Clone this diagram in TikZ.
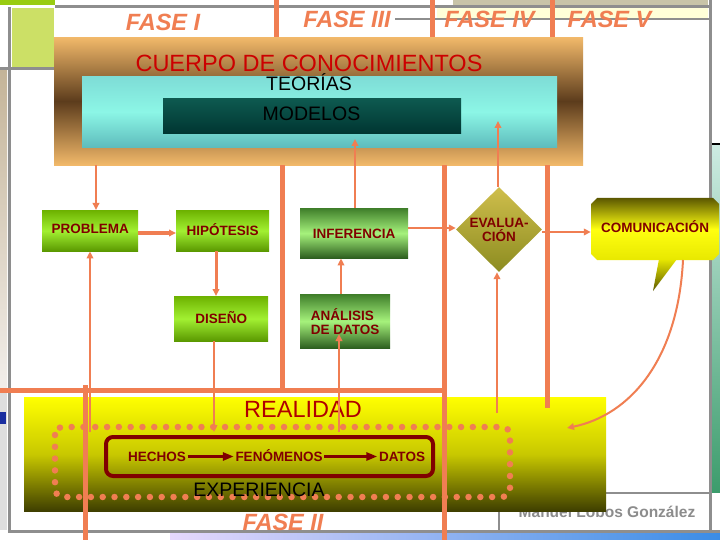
\documentclass[tikz,border=0pt]{standalone}
\usepackage{fontspec}
\setmainfont{Liberation Sans}
\usetikzlibrary{arrows.meta,shapes.geometric}
\definecolor{org}{HTML}{F07E52}
\definecolor{dred}{HTML}{800000}
\definecolor{cred}{HTML}{CC0000}
\definecolor{rred}{HTML}{B00000}
\definecolor{gridg}{HTML}{8E8E8E}
\definecolor{manc}{HTML}{8C8C8C}
\definecolor{bb1}{HTML}{F2B96A}
\definecolor{bb2}{HTML}{5C3C1C}
\definecolor{cy1}{HTML}{7EDCD6}
\definecolor{cy2}{HTML}{8CF6E6}
\definecolor{cy3}{HTML}{5EBCBC}
\definecolor{md1}{HTML}{0E5A50}
\definecolor{md2}{HTML}{003632}
\definecolor{g1}{HTML}{6DB200}
\definecolor{g2}{HTML}{A2F032}
\definecolor{g3}{HTML}{5A9800}
\definecolor{i1}{HTML}{3F7E2A}
\definecolor{i2}{HTML}{A6F27C}
\definecolor{i3}{HTML}{2C5E1E}
\definecolor{dm1}{HTML}{CFBE4C}
\definecolor{dm2}{HTML}{8C8C20}
\definecolor{ye1}{HTML}{FFFF00}
\definecolor{ye2}{HTML}{C8C800}
\definecolor{ye3}{HTML}{3E3E00}
\definecolor{co1}{HTML}{5C5800}
\definecolor{co2}{HTML}{FFFF10}
\definecolor{co3}{HTML}{E8E800}
\newcommand\fsz[1]{\fontsize{#1}{#1}\selectfont}
\begin{document}
\begin{tikzpicture}[x=1pt,y=-1pt,
  gline/.style={draw=gridg, line width=3pt},
  thk/.style={draw=org, line width=5pt},
  arr/.style={draw=org, line width=2.5pt, -{Triangle[length=7pt,width=6.5pt]}},
  fase/.style={text=org, font=\bfseries\itshape\fsz{23.5}, inner sep=0, anchor=base},
  lbl/.style={text=dred, font=\bfseries\fontsize{13.5}{14}\selectfont, inner sep=0, align=center},
  onel/.style={lbl, text height=10pt, text depth=0pt},
  gbox/.style={onel, top color=g1, bottom color=g3, middle color=g2, anchor=north west},
  ibox/.style={top color=i1, bottom color=i3, middle color=i2, anchor=north west},
  rlbl/.style={text=dred, font=\bfseries\fsz{13.5}, inner sep=1.5pt, text height=10pt, text depth=0pt, anchor=base},
  rarr/.style={draw=dred, line width=3pt, -{Triangle[length=11pt,width=8pt]}}
]
\useasboundingbox (0,0) rectangle (720,540);
\fill[white] (0,0) rectangle (720,540);
% ---------- background slide grid ----------
\fill[fill={rgb,255:red,153;green,204;blue,17}] (0,0) rectangle (55,5);
\fill[fill={rgb,255:red,204;green,224;blue,102}] (12,8) rectangle (54,67);
\fill[fill={rgb,255:red,200;green,196;blue,168}] (453,0) rectangle (708,5);
\fill[fill={rgb,255:red,255;green,255;blue,216}] (437,8) rectangle (708,18);
\shade[top color={rgb,255:red,196;green,180;blue,152}, bottom color={rgb,255:red,242;green,238;blue,234}] (0,70) rectangle (7,388);
\fill[fill={rgb,255:red,222;green,222;blue,222}] (0,393) rectangle (7,530);
\fill[fill={rgb,255:red,26;green,46;blue,160}] (0,412) rectangle (6,424);
\shade[top color={rgb,255:red,205;green,235;blue,226}, bottom color={rgb,255:red,60;green,156;blue,108}] (712,145) rectangle (720,492);
\draw[black, line width=1.5pt] (710,144) -- (720,144);
\shade[left color={rgb,255:red,230;green,216;blue,252}, right color={rgb,255:red,58;green,140;blue,230}] (170,533) rectangle (720,540);
\draw[gline] (55,6.5) -- (711.5,6.5);
\draw[gline] (9.5,7) -- (9.5,532);
\draw[gline] (0,68.5) -- (55,68.5);
\draw[gline] (710,0) -- (710,532);
\draw[gline] (8,531) -- (720,531);
\draw[gline, line width=1.5pt] (395,19) -- (709,19);
\draw[gline, line width=2pt] (499,531) -- (499,493) -- (710,493);
\node[font=\bfseries\fsz{15.5}, text=manc, anchor=base, inner sep=0] (author) at (607,517) {Manuel Lobos González};
% ---------- phase labels ----------
\node[fase] (f1) at (163,30.5) {FASE I};
\node[fase] (f3) at (347,27.5) {FASE III};
\node[fase] (f4) at (489.5,27.5) {FASE IV};
\node[fase] (f5) at (609.5,27.5) {FASE V};
\node[fase] (f2) at (283,530) {FASE II};
\draw[thk] (276,0) -- (276,37);
\draw[thk] (432,0) -- (432,37);
\draw[thk] (552,0) -- (552,37);
% ---------- body of knowledge ----------
\node[anchor=north west, inner sep=0, minimum width=529pt, minimum height=128pt, top color=bb1, bottom color=bb1, middle color=bb2] (cuerpo) at (54,37) {};
\node[anchor=north west, inner sep=0, minimum width=475pt, minimum height=71pt, top color=cy1, bottom color=cy3, middle color=cy2] (teo) at (82,76) {};
\node[anchor=north west, inner sep=0, minimum width=298pt, minimum height=35pt, top color=md1, bottom color=md2] (mod) at (163,98) {};
\node[anchor=base, inner sep=0, text=cred, font=\fsz{23.5}] (tc) at (309,72) {CUERPO DE CONOCIMIENTOS};
\node[anchor=base, inner sep=0, font=\fsz{19.5}] (tt) at (309,91) {TEORÍAS};
\node[anchor=base, inner sep=0, font=\fsz{19.5}] (tm) at (311.5,121) {MODELOS};
% ---------- reality ----------
\node[anchor=north west, inner sep=0, minimum width=582pt, minimum height=114pt, top color=ye1, bottom color=ye3, middle color=ye2] (real) at (24,397) {};
\node[anchor=base, inner sep=0, text=rred, font=\fsz{23.5}] (tr) at (303,417) {REALIDAD};
% ---------- phase separators (lower) ----------
\draw[thk] (282,165) -- (282,392);
\draw[thk] (0,390) -- (446.5,390);
\draw[thk] (444,165) -- (444,540);
\draw[thk] (547,165) -- (547,408);
\draw[thk] (85,385) -- (85,540);
% ---------- experience ----------
\draw[org, line width=6.5pt, line cap=round, dash pattern=on 0pt off 11.8pt, rounded corners=8pt] (55,427) rectangle (510,497);
\draw[dred, line width=4pt, rounded corners=7pt] (106,437) rectangle (433,476);
\node[anchor=base, inner sep=0, font=\fsz{19.5}] (exp) at (259,496) {EXPERIENCIA};
\node[rlbl] (hech) at (157,461.5) {HECHOS};
\node[rlbl] (fen) at (279,461.5) {FENÓMENOS};
\node[rlbl] (dat) at (402,461.5) {DATOS};
\draw[rarr] (hech) -- (fen);
\draw[rarr] (fen) -- (dat);
% ---------- process boxes ----------
\node[gbox, minimum width=96pt, minimum height=41pt, text depth=5pt] (prob) at (42,210) {PROBLEMA};
\node[gbox, minimum width=93pt, minimum height=41pt] (hip) at (176,210) {HIPÓTESIS};
\node[gbox, minimum width=94pt, minimum height=45pt] (dis) at (174,296) {DISEÑO};
\node[onel, ibox, minimum width=108pt, minimum height=50pt] (inf) at (300,208) {INFERENCIA};
\node[lbl, ibox, align=left, minimum width=90pt, minimum height=54pt] (ana) at (300,294) {ANÁLISIS\\DE DATOS};
\node[lbl, diamond, aspect=1, minimum width=86pt, minimum height=85pt, top color=dm1, bottom color=dm2] (ev) at (499,229.5) {EVALUA-\\CIÓN};
% callout
\shade[top color=co1, bottom color=co3, middle color=co2] (597,198) -- (713,198) -- (719,204) -- (719,254) -- (713,260) -- (597,260) -- (591,254) -- (591,204) -- cycle;
\shade[top color=co3, bottom color=co1] (659,259) -- (677,259) -- (653,291) -- cycle;
\node[onel, text depth=2pt, minimum width=128pt, minimum height=62pt] (com) at (655,229) {COMUNICACIÓN};
% ---------- arrows ----------
\coordinate (p1) at (96,165);
\draw[arr, line width=2pt] (p1) -- (p1 |- prob.north);
\coordinate (p2) at (90,432);
\draw[arr, line width=2pt] (p2) -- (p2 |- prob.south);
\coordinate (p12) at (0,233);
\draw[arr, line width=3pt] (prob.east |- p12) -- (hip.west |- p12);
\coordinate (p13) at (216,0);
\draw[arr, line width=3pt] (p13 |- hip.south) -- (p13 |- dis.north);
\coordinate (p3) at (214,432);
\draw[arr] (p3 |- dis.south) -- (p3);
\coordinate (p4a) at (339,432);
\coordinate (p4b) at (339,334);
\draw[arr] (p4a) -- (p4b);
\coordinate (p5) at (341,0);
\draw[arr] (p5 |- ana.north) -- (p5 |- inf.south);
\coordinate (p6) at (355,139);
\draw[arr] (p6 |- inf.north) -- (p6);
\coordinate (p7) at (0,228);
\draw[arr] (inf.east |- p7) -- (ev.west |- p7);
\coordinate (p8) at (498,121);
\draw[arr, line width=2pt] (p8 |- ev.north) -- (p8);
\coordinate (p9) at (497,413);
\draw[arr, line width=2pt] (p9) -- (p9 |- ev.south);
\coordinate (p10) at (0,232);
\draw[arr] (ev.east |- p10) -- (com.west |- p10);
\coordinate (p11a) at (683,260);
\coordinate (p11b) at (567,428);
\draw[arr, line width=2pt] (p11a) .. controls (678,360) and (630,415) .. (p11b);
\end{tikzpicture}
\end{document}
